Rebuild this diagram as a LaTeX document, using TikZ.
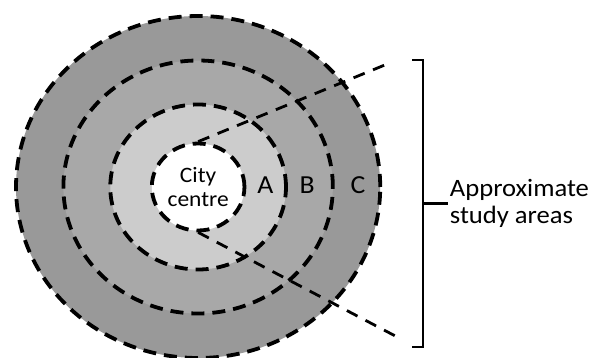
\documentclass[tikz,border=0pt]{standalone}
\usepackage{fontspec}
\setmainfont{Carlito}
\usetikzlibrary{positioning}

\definecolor{zoneA}{gray}{0.80}
\definecolor{zoneB}{gray}{0.66}
\definecolor{zoneC}{gray}{0.60}

\begin{document}
\begin{tikzpicture}[x=1pt, y=1pt, xscale=1.065, transform shape,
    ring/.style={circle, draw=black, line width=3.8pt, dash pattern=on 13pt off 8pt, inner sep=0pt},
    guide/.style={line width=2.8pt, dash pattern=on 12pt off 9pt},
    big/.style={font=\fontsize{25}{27}\selectfont}]
    \useasboundingbox (0,0) rectangle (553.05,357);

    % rings, from the outside in
    \coordinate (mid) at (186,170);
    \node[ring, fill=zoneC, minimum size=342pt] (ringC) at (mid) {};
    \node[ring, fill=zoneB, minimum size=253pt] (ringB) at (mid) {};
    \node[ring, fill=zoneA, minimum size=165pt] (ringA) at (mid) {};
    \node[ring, fill=white, minimum size=87pt, align=center,
          font=\fontsize{22}{24}\selectfont] (centre) at (mid) {City\\centre};

    % zone letters
    \node[font=\fontsize{26}{28}\selectfont] (labA) at (249.3,172) {A};
    \node[font=\fontsize{26}{28}\selectfont] (labB) at (288.3,172) {B};
    \node[font=\fontsize{26}{28}\selectfont] (labC) at (336.2,172) {C};

    % guide lines out to the bracket
    \coordinate (upEnd) at (368.1,295);
    \coordinate (lowEnd) at (376.5,18);
    \draw[guide] (centre.north) -- (upEnd);
    \draw[guide] (centre.south) -- (lowEnd);

    % bracket
    \coordinate (brTop) at (386.9,297);
    \coordinate (brBot) at (386.9,10);
    \coordinate (brMid) at (397.2,153.5);
    \coordinate (tick) at (420.7,153.5);
    \draw[line width=2.4pt] (brTop) -- ++(10.3,0) |- (brBot);
    \draw[line width=2.4pt] (brMid) -- (tick);
    \node[big, align=left, inner sep=1pt, right=0.5pt of tick] (study) {Approximate\\study areas};
\end{tikzpicture}
\end{document}
